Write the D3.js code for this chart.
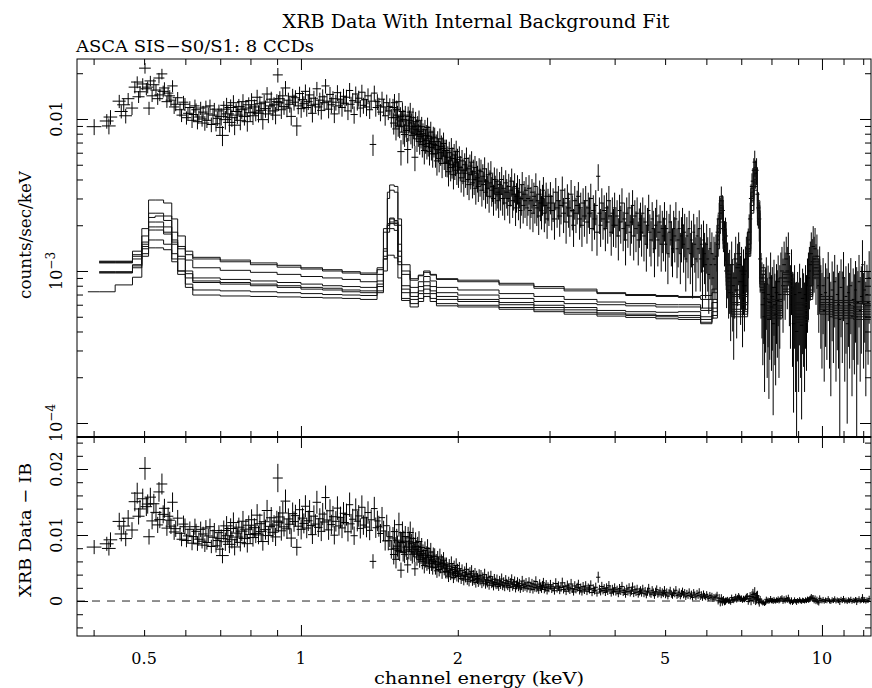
<!DOCTYPE html>
<html>
<head>
<meta charset="utf-8">
<script src="https://d3js.org/d3.v7.min.js"></script>
<style>
  body { margin:0; background:#fff; }
  text { font-family:'DejaVu Serif', serif; fill:#000; }
</style>
</head>
<body>
<div class="page"></div>
<script>
// XRB spectrum, rows are [energy keV, rate (1e-3 counts/sec/keV), error %]
var xrbSoft = [
  [0.401,8.9,12],[0.424,9.7,11],[0.428,9.0,12],[0.431,10.3,11],[0.448,13.1,10],[0.452,11.2,10],[0.457,12.4,10],
  [0.461,10.5,11],[0.466,13.6,9],[0.474,11.8,10],[0.480,16.2,9],[0.485,17.5,9],[0.488,14.0,9],[0.491,15.1,9],
  [0.497,17.0,9],[0.502,21.6,8],[0.505,15.8,9],[0.508,16.2,9],[0.511,11.8,10],[0.514,17.8,8],[0.518,14.2,9],
  [0.522,16.8,9],[0.527,15.5,9],[0.531,13.6,9],[0.534,18.6,8],[0.536,14.4,9],[0.541,19.8,8],[0.544,15.2,9],
  [0.547,16.0,9],[0.553,13.0,9],[0.556,14.8,9],[0.560,14.2,9],[0.563,13.3,9],[0.567,16.5,9],[0.571,12.0,10],
  [0.575,12.5,10],[0.580,13.8,9],[0.586,11.5,10],[0.590,10.6,10],[0.595,12.9,10],[0.599,12.5,10],[0.603,10.2,10],
  [0.607,10.9,10],[0.612,11.9,10],[0.618,9.8,11],[0.622,10.7,10],[0.626,12.2,10],[0.629,11.5,10],[0.633,9.6,11],
  [0.637,10.3,10],[0.642,11.8,10],[0.646,10.0,11],[0.649,11.1,10],[0.654,9.4,11],[0.657,12.0,10],[0.660,9.8,11],
  [0.664,10.8,10],[0.669,12.2,10],[0.673,9.2,11],[0.678,10.6,11],[0.682,11.6,10],[0.687,9.3,11],[0.691,10.1,11],
  [0.696,11.3,10],[0.699,8.8,12]
];
var xrbMid = [
  [0.703,10.4,13],[0.707,7.8,15],[0.711,11.6,13],[0.716,9.9,14],[0.720,12.3,12],[0.724,10.8,13],[0.729,9.5,14],
  [0.733,11.9,13],[0.737,10.2,13],[0.742,12.8,12],[0.746,9.1,14],[0.751,11.2,13],[0.755,10.6,13],[0.760,12.1,12],
  [0.765,9.8,14],[0.770,11.5,13],[0.774,13.0,12],[0.779,10.4,13],[0.784,11.8,13],[0.789,9.6,14],[0.794,12.4,12],
  [0.799,11.0,13],[0.804,13.2,12],[0.809,10.5,13],[0.814,12.0,12],[0.819,11.1,13],[0.824,13.9,12],[0.829,10.9,13],
  [0.834,12.6,12],[0.839,11.4,13],[0.845,9.9,14],[0.850,12.9,12],[0.855,11.7,13],[0.861,14.6,11],[0.866,10.8,13],
  [0.872,12.2,12],[0.877,13.5,12],[0.883,11.3,13],[0.888,12.4,12],[0.894,10.6,13],[0.899,13.0,12],[0.903,19.5,11],
  [0.906,12.8,12],[0.911,13.6,12],[0.917,11.5,13],[0.923,14.2,12],[0.928,12.1,12],[0.934,16.0,11],[0.940,11.8,13],
  [0.946,13.3,12],[0.952,12.5,12],[0.958,10.4,13],[0.964,14.1,12],[0.970,12.9,12],[0.976,13.8,12],[0.982,9.0,14],
  [0.988,12.2,12],[0.994,14.7,11],[1.001,11.7,13],[1.007,13.4,12],[1.013,12.6,12],[1.020,15.2,11],[1.026,11.9,13],
  [1.033,13.0,12],[1.039,14.4,12],[1.046,12.3,12],[1.052,10.9,13],[1.059,13.7,12],[1.066,12.5,12],[1.073,15.8,11],
  [1.080,12.0,12],[1.087,13.3,12],[1.094,11.4,13],[1.101,14.0,12],[1.108,12.8,12],[1.115,16.5,11],[1.122,13.1,12],
  [1.130,11.6,13],[1.137,14.5,12],[1.144,12.4,12],[1.152,13.6,12],[1.159,10.8,13],[1.167,12.9,12],[1.175,14.9,12],
  [1.183,12.2,12],[1.191,13.5,12],[1.199,11.9,13],[1.207,14.1,12],[1.215,12.7,12],[1.223,13.9,12],[1.231,11.3,13],
  [1.240,15.4,12],[1.248,12.5,12],[1.257,13.2,12],[1.265,10.7,13],[1.274,14.6,12],[1.283,12.9,12],[1.291,13.7,12],
  [1.300,11.8,13],[1.309,15.0,12],[1.318,12.3,12],[1.327,13.4,12],[1.336,12.0,13],[1.345,14.2,12],[1.355,11.5,13],
  [1.364,13.1,12],[1.375,6.8,16],[1.383,14.8,12],[1.392,11.9,13],[1.402,13.0,12],[1.411,12.2,13],[1.421,11.1,13],
  [1.431,13.5,12],[1.441,12.0,13],[1.451,10.5,14],[1.461,12.8,13],[1.471,11.3,13],[1.481,12.1,13],[1.491,10.2,14]
];
var xrbSteep = [
  [1.502,11.9,14],[1.507,9.4,16],[1.512,12.8,14],[1.517,10.2,15],[1.522,8.6,16],[1.527,11.5,15],[1.532,10.6,15],
  [1.537,9.1,16],[1.542,13.0,14],[1.547,8.9,16],[1.552,10.4,15],[1.556,6.1,19],[1.561,9.7,16],[1.566,11.2,15],
  [1.571,8.2,17],[1.576,9.9,16],[1.581,7.9,17],[1.586,10.6,15],[1.591,9.0,16],[1.596,8.4,16],[1.603,6.3,19],
  [1.606,10.4,16],[1.611,8.6,17],[1.616,9.8,16],[1.621,11.1,15],[1.626,8.2,17],[1.631,9.4,16],[1.636,7.8,18],
  [1.641,10.2,16],[1.646,8.9,17],[1.651,8.0,17],[1.655,5.6,19],[1.660,9.6,16],[1.665,8.5,17],[1.670,7.4,18],
  [1.675,9.0,16],[1.680,7.9,17],[1.685,9.8,16],[1.690,7.1,18],[1.695,8.3,17],[1.700,7.7,17],[1.705,8.9,16],
  [1.710,6.8,18],[1.715,8.0,17],[1.720,7.4,17],[1.725,6.2,19],[1.730,8.5,16],[1.735,7.2,18],[1.740,7.8,17],
  [1.745,6.6,18],[1.750,8.8,16],[1.755,6.9,18],[1.760,7.7,17],[1.765,6.1,19],[1.770,7.4,17],[1.775,8.2,17],
  [1.780,6.5,18],[1.785,7.1,18],[1.790,5.9,19],[1.795,7.6,17],[1.800,6.8,18],[1.806,7.5,17],[1.812,5.9,19],
  [1.818,6.7,18],[1.824,5.3,20],[1.830,7.1,17],[1.836,6.3,18],[1.842,5.5,19],[1.848,7.4,17],[1.854,6.0,18],
  [1.860,6.6,18],[1.866,5.1,20],[1.872,6.4,18],[1.878,6.9,18],[1.884,5.7,19],[1.890,6.2,18],[1.896,5.2,20],
  [1.902,6.2,18],[1.908,5.1,19],[1.914,5.6,18],[1.920,4.5,20],[1.926,6.0,18],[1.932,5.3,19],[1.938,4.8,19],
  [1.944,6.4,17],[1.950,5.0,19],[1.956,5.5,18],[1.962,4.3,20],[1.968,5.8,18],[1.974,4.9,19],[1.980,5.2,19],
  [1.986,6.1,18],[1.992,4.6,20],[1.998,5.4,18],[2.006,4.4,20],[2.014,5.6,18],[2.022,4.8,19],[2.030,4.1,20],
  [2.038,5.3,18],[2.046,4.6,19],[2.054,3.9,21],[2.062,5.0,19],[2.070,4.4,20],[2.078,5.5,18],[2.086,4.0,21],
  [2.094,4.7,19],[2.102,3.7,21],[2.110,4.9,19],[2.118,4.3,20],[2.126,5.2,18],[2.134,3.8,21],[2.142,4.5,20],
  [2.150,4.0,21],[2.158,4.8,19],[2.166,3.5,22],[2.174,4.4,20],[2.182,4.1,20],[2.190,3.6,21],[2.198,4.6,20],
  [2.207,3.9,21],[2.216,4.5,20],[2.225,3.4,22],[2.234,4.2,20],[2.243,3.7,21],[2.252,4.7,19],[2.261,3.3,22],
  [2.270,3.9,21],[2.279,3.5,21],[2.288,4.3,20],[2.297,3.1,22],[2.306,3.8,21],[2.315,4.4,20],[2.324,3.4,22],
  [2.333,3.6,21],[2.342,3.0,23],[2.351,4.0,20],[2.360,3.5,21],[2.369,3.2,22],[2.378,3.9,21],[2.387,3.3,22],
  [2.396,2.9,23],[2.406,3.7,21],[2.417,3.2,22],[2.428,4.0,21],[2.439,3.0,23],[2.450,3.5,22],[2.461,2.8,23],
  [2.472,3.8,21],[2.483,3.3,22],[2.494,3.0,23],[2.505,3.6,21],[2.516,2.7,24],[2.527,3.4,22],[2.538,3.9,21],
  [2.549,2.9,23],[2.560,3.2,22],[2.571,3.6,22],[2.582,2.6,24],[2.593,3.1,22],[2.604,3.5,22],[2.615,2.8,23],
  [2.626,3.3,22],[2.637,2.5,24],[2.648,3.0,23],[2.659,3.7,21],[2.670,2.7,24],[2.681,3.2,22],[2.692,2.9,23],
  [2.704,3.4,22],[2.716,2.6,24],[2.728,3.0,23],[2.740,3.5,22],[2.752,2.5,25],[2.764,2.9,23],[2.776,3.3,22],
  [2.788,2.4,25],[2.800,3.1,23],[2.812,2.7,24],[2.824,3.6,22],[2.836,2.6,24],[2.848,2.9,23],[2.860,2.3,25],
  [2.872,3.2,23],[2.884,2.8,24],[2.896,2.5,25],[2.908,3.0,23],[2.920,3.4,22],[2.932,2.4,25],[2.944,2.7,24],
  [2.956,3.1,23],[2.968,2.2,26],[2.980,2.8,24],[2.992,2.6,24]
];
var xrbHard = [
  [3.012,3.1,24],[3.030,2.5,26],[3.048,2.8,25],[3.066,2.2,27],[3.084,3.3,24],[3.102,2.6,26],[3.120,2.9,25],
  [3.138,2.3,27],[3.156,2.7,25],[3.174,3.4,23],[3.192,2.4,26],[3.210,2.8,25],[3.228,2.1,28],[3.246,3.0,24],
  [3.264,2.6,26],[3.282,2.3,27],[3.300,3.2,24],[3.318,2.5,26],[3.336,2.0,28],[3.354,2.9,25],[3.372,2.4,26],
  [3.390,2.7,25],[3.408,3.1,24],[3.426,2.2,27],[3.444,2.6,26],[3.462,2.0,28],[3.480,2.8,25],[3.500,2.3,27],
  [3.520,2.9,25],[3.540,2.1,28],[3.560,2.6,26],[3.580,2.4,27],[3.600,3.0,25],[3.620,1.9,29],[3.640,2.5,26],
  [3.660,2.2,27],[3.680,2.7,26],[3.700,1.8,30],[3.720,4.2,20],[3.740,2.4,27],[3.760,2.0,28],[3.780,2.8,25],
  [3.800,2.2,27],[3.820,2.5,26],[3.840,1.9,29],[3.860,2.6,26],[3.880,2.1,28],[3.900,2.9,25],[3.920,2.3,27],
  [3.940,1.8,30],[3.960,2.4,27],[3.980,2.0,28],[4.000,2.6,26],[4.022,2.0,29],[4.044,2.3,27],[4.066,1.7,31],
  [4.088,2.5,27],[4.110,2.1,28],[4.132,2.8,25],[4.154,1.9,29],[4.176,2.2,28],[4.198,1.6,32],[4.220,2.4,27],
  [4.242,2.0,29],[4.264,2.6,26],[4.286,1.8,30],[4.308,2.1,28],[4.330,2.7,26],[4.352,1.7,31],[4.374,2.3,27],
  [4.396,1.9,30],[4.418,2.4,27],[4.440,1.6,32],[4.462,2.0,29],[4.484,2.2,28],[4.506,1.8,31],[4.530,2.4,27],
  [4.554,1.7,32],[4.578,2.1,29],[4.602,1.5,34],[4.626,2.0,30],[4.650,2.5,27],[4.674,1.8,31],[4.698,1.6,33],
  [4.722,2.2,29],[4.746,1.9,31],[4.770,1.4,35],[4.794,2.0,30],[4.818,2.3,28],[4.842,1.6,33],[4.866,1.8,31],
  [4.890,2.1,29],[4.914,1.5,34],[4.938,1.9,31],[4.962,1.7,32],[4.986,2.2,29],[5.010,1.5,34],[5.036,1.9,31],
  [5.062,1.3,37],[5.088,1.8,32],[5.114,2.1,30],[5.140,1.6,33],[5.166,1.4,35],[5.192,1.9,31],[5.218,1.7,33],
  [5.244,2.2,29],[5.270,1.4,36],[5.296,1.6,34],[5.322,1.9,31],[5.348,1.3,37],[5.374,1.7,33],[5.400,2.0,30],
  [5.426,1.5,35],[5.452,1.8,32],[5.478,1.2,39],[5.505,1.7,33],[5.533,1.4,36],[5.561,1.9,31],[5.589,1.3,37],
  [5.617,1.6,34],[5.645,1.1,40],[5.673,1.8,32],[5.701,1.5,35],[5.729,1.2,39],[5.757,1.7,33],[5.785,1.4,36],
  [5.813,1.9,32],[5.841,1.2,39],[5.869,1.5,35],[5.897,1.0,43],[5.925,1.6,34],[5.953,1.3,37],[5.981,1.1,40],
  [6.009,1.5,36],[6.037,1.2,39],[6.065,0.95,45],[6.093,1.4,37],[6.121,1.1,41],[6.149,1.3,38],[6.177,0.9,46],
  [6.205,1.2,40],[6.233,1.1,41],[6.261,1.25,39]
];
var xrbLines = [
  [6.29,1.5,34],[6.32,1.8,31],[6.35,2.2,28],[6.38,2.4,27],[6.41,2.9,24],[6.44,2.5,26],[6.47,1.9,30],
  [6.50,1.6,33],[6.53,1.7,32],[6.56,1.0,43],[6.59,1.1,40],[6.62,0.9,46],[6.65,0.95,45],[6.68,0.72,52],
  [6.71,1.1,42],[6.74,0.8,50],[6.77,0.62,58],[6.80,0.9,46],[6.83,1.2,40],[6.86,0.75,52],[6.89,1.05,44],
  [6.92,1.3,38],[6.95,1.1,41],[6.98,0.85,48],[7.01,1.0,44],[7.04,0.7,55],[7.07,0.95,46],[7.10,0.8,50],
  [7.13,1.0,45],[7.16,1.2,40],[7.19,1.3,38],[7.22,1.4,36],[7.25,1.8,31],[7.28,2.2,28],[7.31,3.0,24],
  [7.34,3.6,22],[7.37,3.9,22],[7.40,4.6,20],[7.43,5.2,19],[7.46,4.4,21],[7.49,4.6,20],[7.52,3.2,24],
  [7.55,2.6,27],[7.58,2.2,29],[7.61,1.2,40],[7.64,0.9,46],[7.67,0.75,52],[7.70,0.6,60],[7.73,0.72,54],
  [7.76,0.5,68],[7.79,0.66,56],[7.82,0.82,50],[7.85,0.55,64],[7.88,0.7,55],[7.91,0.48,70],[7.94,0.62,58],
  [7.97,0.9,47],[8.00,0.58,62],[8.03,0.68,56],[8.06,0.45,75],[8.09,0.78,52],[8.12,0.6,60],[8.15,0.52,66],
  [8.18,0.72,54],[8.21,0.64,58],[8.24,0.85,49],[8.27,0.55,64],[8.30,0.7,56],[8.34,0.9,47],[8.38,1.0,44],
  [8.42,0.8,51],[8.46,1.1,42],[8.50,0.9,47],[8.54,1.2,40],[8.58,1.0,44],[8.62,1.3,38],[8.66,0.85,49],
  [8.70,0.7,56],[8.74,0.95,46],[8.78,0.6,61],[8.82,0.45,74],[8.86,0.7,56],[8.90,0.5,68],[8.94,0.4,112],
  [8.98,0.62,59],[9.02,0.5,68],[9.06,0.72,55],[9.10,0.55,64],[9.14,0.44,76],[9.18,0.66,57],[9.22,0.6,61],
  [9.26,0.5,68],[9.30,0.7,56],[9.34,0.58,62],[9.38,0.8,51],[9.42,0.9,47],[9.46,1.0,44],[9.50,1.1,42],
  [9.54,1.3,38],[9.58,1.15,41],[9.62,1.45,36],[9.66,1.2,40],[9.70,1.4,37],[9.74,1.05,43],[9.78,1.25,39],
  [9.82,0.95,46],[9.86,0.8,51],[9.90,1.0,45],[9.95,0.7,56],[10.0,0.6,62],[10.05,0.8,52],[10.1,0.55,66],
  [10.16,0.72,56],[10.22,0.65,60],[10.28,0.9,48],[10.34,0.6,62],[10.4,0.5,70],[10.46,0.75,54],[10.52,0.62,60],
  [10.58,0.85,50],[10.64,0.55,66],[10.7,0.7,57],[10.76,0.6,62],[10.82,0.48,108],[10.88,0.78,53],[10.94,0.62,60],
  [11.0,0.9,48],[11.06,0.55,66],[11.12,0.68,58],[11.18,0.45,78],[11.24,0.72,56],[11.3,0.6,62],[11.36,0.8,52],
  [11.42,0.5,70],[11.48,0.65,60],[11.54,0.58,64],[11.6,0.75,55],[11.66,0.5,112],[11.72,0.62,61],[11.78,0.85,50],
  [11.84,0.55,66],[11.9,0.68,58],[11.96,1.1,45],[12.02,0.6,62],[12.08,0.75,55],[12.14,0.5,70],[12.2,0.7,57],
  [12.26,0.62,61],[12.32,0.9,50]
];
// half width of the channel groups (upper energy of band, keV)
var binHalfWidth = [[0.7,0.013],[1.5,0.02],[3.0,0.025],[6.3,0.035],[13,0.07]];

// internal background models, one value per bin (1e-4 counts/sec/keV)
var ibEdges = [0.39,0.41,0.44,0.475,0.495,0.51,0.525,0.545,0.565,0.58,0.60,0.62,0.70,0.80,0.90,1.0,1.1,1.2,1.3,
  1.40,1.44,1.465,1.48,1.51,1.535,1.56,1.62,1.68,1.72,1.77,1.82,2.0,2.4,2.8,3.2,3.7,4.2,4.8,5.3,5.85,6.15,6.3,
  6.36,6.46,6.55,6.7,7.2,7.3,7.4,7.52,7.6,7.8,8.4,8.8,9.4,9.6,9.9,10.5,11.5,12.4];
var ib1 = [null,11.5,11.5,12.8,15.0, 18.6,18.6,17.5,15.5,14.0, 12.8,12.3,11.8,11.3,10.9, 10.5,10.2,9.9,9.7,10.2,
  14.0,20.5,22.3,21.0,15.0, 10.0,8.9,9.3,9.8,9.4, 8.9,8.7,8.3,7.9,7.6, 7.2,7.0,6.9,6.8,6.9, 7.6,
  19,27,18,9.5,7.0, 15,31,43,25,9.5, 6.5,9.5,6.2,8.0,12.5, 6.8,6.4,6.3];
var ib2 = [null,11.6,11.6,13.5,19.0, 29.3,29.3,28.0,22.0,17.0, 13.5,12.0,11.5,11.0,10.6, 10.3,10.0,9.7,9.5,10.5,
  19.0,33.0,36.8,36.0,22.0, 11.0,8.7,9.4,10.0,9.5, 8.8,8.5,8.1,7.7,7.4, 7.1,6.9,6.8,6.7,6.5, 7.2,
  22,31,21,11,6.8, 18,35,48,29,10.5, 6.3,9.8,6.0,8.0,12.0, 6.5,6.2,6.1];
var ib3 = [null,11.4,11.4,12.5,17.0, 24.0,24.0,23.0,18.0,14.5, 11.8,10.5,10.1,9.8,9.5, 9.2,9.0,8.8,8.5,9.5,
  18.0,30.0,34.0,33.0,20.0, 9.5,7.8,8.5,9.2,8.6, 7.8,7.5,7.1,6.8,6.5, 6.25,6.1,6.0,6.0,5.7, 6.5,
  20,29,19,10,6.2, 16,33,46,27,10, 5.9,9.0,5.7,8.0,11.5, 6.2,5.9,5.8];
var ib4 = [null,9.8,9.8,11.0,15.5, 22.5,23.0,21.5,16.0,12.5, 10.0,9.0,8.8,8.6,8.4, 8.2,8.0,7.9,7.8,8.6,
  13.5,20.0,22.0,21.5,13.5, 8.0,7.2,7.9,8.5,7.9, 7.2,6.95,6.6,6.3,6.1, 6.0,5.9,5.8,5.8,5.5, 6.2,
  18,26,17.5,9.5,6.0, 15,30,42,25,9.5, 5.7,8.5,5.5,7.5,11.0, 6.0,5.7,5.6];
var ib5 = [null,9.7,9.7,10.5,14.0, 21.0,21.0,19.5,15.0,12.0, 9.6,8.6,8.4,8.2,8.0, 7.8,7.7,7.5,7.4,8.2,
  12.5,19.0,20.5,20.0,12.5, 7.6,6.8,7.4,8.0,7.4, 6.8,6.5,6.2,5.95,5.75, 5.5,5.4,5.35,5.4,5.0, 5.7,
  17,25,17,9.0,5.6, 14,29,40,24,9.0, 5.5,8.0,5.2,7.2,10.5, 5.8,5.5,5.4];
var ib6 = [7.3,7.3,8.1,9.1,12.5, 16.0,16.0,15.0,12.0,10.0, 9.0,8.4,8.2,8.0,7.8, 7.6,7.5,7.3,7.2,7.9,
  12.0,18.0,19.0,18.5,11.5, 7.2,6.5,7.1,7.6,7.1, 6.5,6.3,6.0,5.75,5.55, 5.3,5.2,5.1,5.1,4.8, 5.4,
  16,24,16,8.5,5.4, 13.5,27,38,22,8.5, 5.3,7.6,5.0,7.0,10.0, 5.6,5.3,5.2];
var ib7 = [null,11.3,11.3,12.0,13.0, 14.2,14.2,13.8,11.5,9.5, 8.2,7.5,7.4,7.3,7.2, 7.1,7.0,6.95,6.9,7.4,
  10.0,12.7,12.7,12.2,9.0, 6.6,6.1,6.6,7.1,6.6, 6.1,5.95,5.75,5.55,5.35, 5.2,5.1,5.0,4.95,4.6, 5.1,
  15,22,15,8.0,5.2, 13,25,36,21,8.2, 5.1,7.3,4.8,6.8,9.5, 5.4,5.1,5.0];
var ib8 = [null,9.9,9.9,10.8,14.5, 19.5,19.5,18.0,13.0,10.0, 7.8,6.95,6.85,6.8,6.75, 6.7,6.65,6.6,6.5,7.2,
  12.0,20.0,21.0,20.5,11.0, 6.4,5.8,6.3,6.8,6.3, 5.9,5.8,5.6,5.4,5.2, 5.05,4.95,4.85,4.8,4.5, 4.9,
  14,21,14,7.5,5.0, 12.5,24,34,20,7.8, 4.9,7.0,4.6,6.5,9.0, 5.2,4.9,4.8];
var ibModels = [ib1, ib2, ib3, ib4, ib5, ib6, ib7, ib8];

// ticks and labels
var xTickMajor = [1, 10];
var xTickMinor = [0.4,0.5,0.6,0.7,0.8,0.9,2,3,4,5,6,7,8,9,11,12];
var xTickLabels = [0.5, 1, 2, 5, 10];
var yTopMajor = [1e-4, 1e-3, 1e-2];
var yTopMinor = [2e-4,3e-4,4e-4,5e-4,6e-4,7e-4,8e-4,9e-4,2e-3,3e-3,4e-3,5e-3,6e-3,7e-3,8e-3,9e-3,0.02];
var yTopLabels = [[0.01,'0.01',''],[1e-3,'10','\u22123'],[1e-4,'10','\u22124']];
var yBotMajor = [0, 0.01, 0.02];
var yBotMinor = [-0.004,-0.002,0.002,0.004,0.006,0.008,0.012,0.014,0.016,0.018,0.022,0.024];
var yBotLabels = [[0.02,'0.02'],[0.01,'0.01'],[0,'0']];

var W = 872, H = 688;
var fr = {left:77, right:871, top:59, mid:437, bottom:636};

var x = d3.scaleLog().domain([0.3717, 12.42]).range([fr.left, fr.right]);
var yTop = d3.scaleLog().domain([8.09e-5, 0.02481]).range([fr.mid, fr.top]);
var yBot = d3.scaleLinear().domain([-0.0053, 0.02485]).range([fr.bottom, fr.mid]);

var svg = d3.select('.page').append('svg')
  .attr('width', W).attr('height', H);

svg.append('defs').call(function(d) {
  d.append('clipPath').attr('id','clipTop').append('rect')
    .attr('x', fr.left).attr('y', fr.top).attr('width', fr.right-fr.left).attr('height', fr.mid-fr.top);
  d.append('clipPath').attr('id','clipBot').append('rect')
    .attr('x', fr.left).attr('y', fr.mid).attr('width', fr.right-fr.left).attr('height', fr.bottom-fr.mid);
});

function halfWidth(e) {
  for (var i = 0; i < binHalfWidth.length; i++) if (e <= binHalfWidth[i][0]) return binHalfWidth[i][1];
  return binHalfWidth[binHalfWidth.length-1][1];
}

function ibMean(e) {
  var i = Math.max(0, Math.min(ibEdges.length-2, d3.bisectRight(ibEdges, e) - 1));
  var vals = ibModels.map(function(m) { return m[i]; }).filter(function(v) { return v != null; });
  return d3.mean(vals) * 1e-4;
}

var points = [].concat(xrbSoft, xrbMid, xrbSteep, xrbHard, xrbLines).map(function(r) {
  var v = r[1] * 1e-3;
  return {e:r[0], v:v, err:v*r[2]/100, hw:halfWidth(r[0]), res:v - ibMean(r[0])};
});

// top panel: data crosses
var upper = svg.append('g').attr('clip-path','url(#clipTop)');
var ymin = yTop.domain()[0];
upper.selectAll('line.ey').data(points).enter().append('line')
  .attr('class','pt')
  .attr('x1', function(d) { return x(d.e); }).attr('x2', function(d) { return x(d.e); })
  .attr('y1', function(d) { return yTop(Math.max(d.v - d.err, ymin*0.5)); })
  .attr('y2', function(d) { return yTop(d.v + d.err); });
upper.selectAll('line.ex').data(points).enter().append('line')
  .attr('class','pt')
  .attr('x1', function(d) { return x(d.e - d.hw); }).attr('x2', function(d) { return x(d.e + d.hw); })
  .attr('y1', function(d) { return yTop(d.v); }).attr('y2', function(d) { return yTop(d.v); });
upper.selectAll('line.pt').attr('stroke','#000').attr('stroke-width',1);

// top panel: background model histograms
var ibLine = d3.line()
  .defined(function(d) { return d.v != null; })
  .x(function(d) { return x(d.e); })
  .y(function(d) { return yTop(d.v * 1e-4); })
  .curve(d3.curveStepAfter);
ibModels.forEach(function(m) {
  var pts = ibEdges.map(function(e, i) { return {e:e, v: i < m.length ? m[i] : m[m.length-1]}; });
  upper.append('path').datum(pts).attr('d', ibLine)
    .attr('fill','none').attr('stroke','#111').attr('stroke-width',1);
});

// bottom panel: residuals
var lower = svg.append('g').attr('clip-path','url(#clipBot)');
lower.append('line')
  .attr('x1', fr.left).attr('x2', fr.right).attr('y1', yBot(0)).attr('y2', yBot(0))
  .attr('stroke','#222').attr('stroke-width',1).attr('stroke-dasharray','8,7');
lower.selectAll('line.ey').data(points).enter().append('line')
  .attr('class','pt')
  .attr('x1', function(d) { return x(d.e); }).attr('x2', function(d) { return x(d.e); })
  .attr('y1', function(d) { return yBot(d.res - d.err); })
  .attr('y2', function(d) { return yBot(d.res + d.err); });
lower.selectAll('line.ex').data(points).enter().append('line')
  .attr('class','pt')
  .attr('x1', function(d) { return x(d.e - d.hw); }).attr('x2', function(d) { return x(d.e + d.hw); })
  .attr('y1', function(d) { return yBot(d.res); }).attr('y2', function(d) { return yBot(d.res); });
lower.selectAll('line.pt').attr('stroke','#000').attr('stroke-width',1);

// frames
svg.append('rect').attr('x', fr.left).attr('y', fr.top)
  .attr('width', fr.right-fr.left).attr('height', fr.mid-fr.top)
  .attr('fill','none').attr('stroke','#000').attr('stroke-width',1);
svg.append('rect').attr('x', fr.left).attr('y', fr.mid)
  .attr('width', fr.right-fr.left).attr('height', fr.bottom-fr.mid)
  .attr('fill','none').attr('stroke','#000').attr('stroke-width',1);
svg.append('line').attr('x1', fr.left).attr('x2', fr.right).attr('y1', fr.mid).attr('y2', fr.mid)
  .attr('stroke','#000').attr('stroke-width',2);

// inward ticks
function ticks(axisFn, scale, values, len, tx, ty) {
  var g = svg.append('g').attr('transform','translate(' + tx + ',' + ty + ')')
    .call(axisFn(scale).tickValues(values).tickSizeInner(-len).tickSizeOuter(0).tickFormat(''));
  g.select('.domain').remove();
  g.selectAll('line').attr('stroke','#000').attr('stroke-width',1);
}
[[d3.axisTop, fr.top], [d3.axisBottom, fr.mid], [d3.axisTop, fr.mid], [d3.axisBottom, fr.bottom]].forEach(function(a) {
  ticks(a[0], x, xTickMinor, 6, 0, a[1]);
  ticks(a[0], x, xTickMajor, 11, 0, a[1]);
});
ticks(d3.axisLeft, yTop, yTopMinor, 6, fr.left, 0);
ticks(d3.axisLeft, yTop, yTopMajor, 11, fr.left, 0);
ticks(d3.axisRight, yTop, yTopMinor, 6, fr.right, 0);
ticks(d3.axisRight, yTop, yTopMajor, 11, fr.right, 0);
ticks(d3.axisLeft, yBot, yBotMinor, 6, fr.left, 0);
ticks(d3.axisLeft, yBot, yBotMajor, 11, fr.left, 0);
ticks(d3.axisRight, yBot, yBotMinor, 6, fr.right, 0);
ticks(d3.axisRight, yBot, yBotMajor, 11, fr.right, 0);

// tick labels
svg.selectAll('text.xl').data(xTickLabels).enter().append('text')
  .attr('x', function(d) { return x(d); }).attr('y', 664)
  .attr('text-anchor','middle').style('font-size','16px')
  .text(function(d) { return d; });

yTopLabels.forEach(function(l) {
  var t = svg.append('text')
    .attr('transform','translate(62,' + yTop(l[0]) + ') rotate(-90)')
    .attr('text-anchor','middle').style('font-size','16px');
  t.append('tspan').text(l[1]);
  if (l[2]) t.append('tspan').attr('dy','-0.6em').style('font-size','12px').text(l[2]);
});
yBotLabels.forEach(function(l) {
  svg.append('text')
    .attr('transform','translate(62,' + yBot(l[0]) + ') rotate(-90)')
    .attr('text-anchor','middle').style('font-size','16px')
    .text(l[1]);
});

// titles
svg.append('text').attr('x', 476).attr('y', 28).attr('text-anchor','middle')
  .attr('textLength', 387).attr('lengthAdjust','spacingAndGlyphs')
  .style('font-size','18px').text('XRB Data With Internal Background Fit');
svg.append('text').attr('x', 76).attr('y', 52)
  .attr('textLength', 238).attr('lengthAdjust','spacingAndGlyphs')
  .style('font-size','17px').text('ASCA SIS\u2212S0/S1: 8 CCDs');
svg.append('text').attr('x', 479).attr('y', 684).attr('text-anchor','middle')
  .attr('textLength', 210).attr('lengthAdjust','spacingAndGlyphs')
  .style('font-size','17px').text('channel energy (keV)');
svg.append('text').attr('transform','translate(31,235) rotate(-90)').attr('text-anchor','middle')
  .attr('textLength', 128).attr('lengthAdjust','spacingAndGlyphs')
  .style('font-size','17px').text('counts/sec/keV');
svg.append('text').attr('transform','translate(31,530) rotate(-90)').attr('text-anchor','middle')
  .attr('textLength', 134).attr('lengthAdjust','spacingAndGlyphs')
  .style('font-size','17px').text('XRB Data \u2212 IB');
</script>
</body>
</html>
